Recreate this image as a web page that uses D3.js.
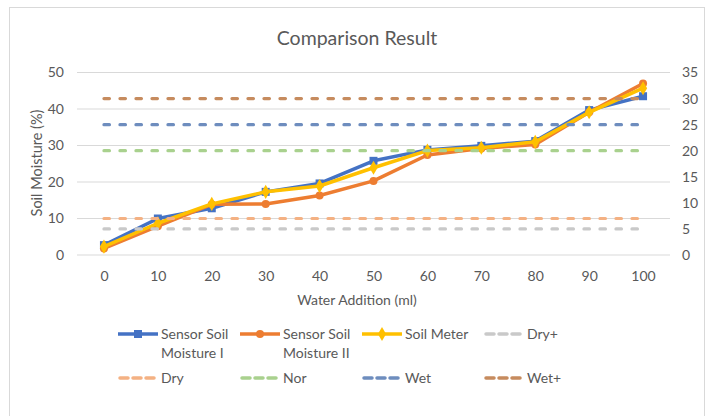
<!DOCTYPE html>
<html><head><meta charset="utf-8">
<script src="https://cdn.jsdelivr.net/npm/d3@7"></script>
<style>
html,body{margin:0;padding:0;background:#fff;}
svg text{font-family:Lato,"Open Sans",sans-serif;fill:#595959;}
</style></head>
<body><svg id="c" width="709" height="416"></svg>
<script>
const categories = [0,10,20,30,40,50,60,70,80,90,100];
const sensorI  = [2.7,10.0,12.8,17.3,19.6,25.8,28.8,29.9,31.2,39.7,43.5];
const sensorII = [1.8,7.9,13.9,14.0,16.3,20.3,27.4,29.2,30.3,39.1,47.0];
const soilMeter= [2.3,8.7,14.0,17.3,18.9,23.9,28.6,29.4,31.0,39.1,45.7];
// reference thresholds (secondary axis)
const thresholdNames = ["Dry+","Dry","Nor","Wet","Wet+"];
const thresholdValues = [5,7,20,25,30];
const leftTicks = [0,10,20,30,40,50];
const rightTicks = [0,5,10,15,20,25,30,35];

const svg = d3.select("#c");
svg.append("rect").attr("x",9.5).attr("y",7.5).attr("width",695).attr("height",420)
  .attr("fill","#fff").attr("stroke","#D9D9D9").attr("stroke-width",1);

const x = d3.scalePoint().domain(categories).range([77,670]).padding(0.5);
const yL = d3.scaleLinear().domain([0,50]).range([255,72.5]);
const yR = d3.scaleLinear().domain([0,35]).range([255,72.5]);

svg.append("g").selectAll("line").data(leftTicks).join("line")
  .attr("x1",77).attr("x2",670).attr("y1",d=>yL(d)).attr("y2",d=>yL(d))
  .attr("stroke","#D9D9D9").attr("stroke-width",1);

const fs = "14px";
const axL = svg.append("g").attr("transform","translate(77,0)")
  .call(d3.axisLeft(yL).tickValues(leftTicks).tickSize(0).tickPadding(13));
axL.select(".domain").remove();
axL.selectAll("text").style("font-size",fs).attr("fill","#595959");
const axR = svg.append("g").attr("transform","translate(670,0)")
  .call(d3.axisRight(yR).tickValues(rightTicks).tickSize(0).tickPadding(12));
axR.select(".domain").remove();
axR.selectAll("text").style("font-size",fs).attr("fill","#595959");
const axB = svg.append("g").attr("transform","translate(0,255)")
  .call(d3.axisBottom(x).tickSize(0).tickPadding(16));
axB.select(".domain").remove();
axB.selectAll("text").style("font-size",fs).attr("fill","#595959");

svg.append("text").attr("x",357).attr("y",45).attr("text-anchor","middle")
  .style("font-size","19.5px").text("Comparison Result");
svg.append("text").attr("x",357).attr("y",305).attr("text-anchor","middle")
  .style("font-size",fs).text("Water Addition (ml)");
svg.append("text").attr("transform","translate(42,163) rotate(-90)").attr("text-anchor","middle")
  .style("font-size","14.5px").text("Soil Moisture (%)");

const mainSeries = [
  {name:["Sensor Soil","Moisture I"], values:sensorI, color:"#4472C4", marker:"square"},
  {name:["Sensor Soil","Moisture II"], values:sensorII, color:"#ED7D31", marker:"circle"},
  {name:["Soil Meter"], values:soilMeter, color:"#FFC000", marker:"diamond"}
];
const thrColors = ["#C9C9C9","#F4B183","#A9D18E","#6E8DBE","#C68B5E"];

const line = d3.line().x((d,i)=>x(categories[i])).y(d=>yL(d));
function drawMarker(g, type, cx, cy, color, s){
  if(type==="square") g.append("rect").attr("x",cx-s/2).attr("y",cy-s/2).attr("width",s).attr("height",s).attr("fill",color);
  else if(type==="circle") g.append("circle").attr("cx",cx).attr("cy",cy).attr("r",s/2).attr("fill",color);
  else g.append("path").attr("d",d3.symbol(d3.symbolDiamond, s*s*0.9)()).attr("transform",`translate(${cx},${cy})`).attr("fill",color);
}
mainSeries.forEach(s=>{
  const g = svg.append("g");
  g.append("path").attr("d",line(s.values)).attr("fill","none").attr("stroke",s.color)
    .attr("stroke-width",3.5).attr("stroke-linejoin","round");
  s.values.forEach((v,i)=>drawMarker(g,s.marker,x(categories[i]),yL(v),s.color,8));
});
thresholdValues.forEach((v,i)=>{
  svg.append("line").attr("x1",x(categories[0])).attr("x2",x(categories[categories.length-1]))
    .attr("y1",yR(v)).attr("y2",yR(v)).attr("stroke",thrColors[i]).attr("stroke-width",3.2)
    .attr("stroke-linecap","round").attr("stroke-dasharray","5.5,10.5");
});

const legendItems = [
  ...mainSeries.map(s=>({name:s.name,color:s.color,marker:s.marker,dash:false})),
  ...thresholdNames.map((n,i)=>({name:[n],color:thrColors[i],dash:true}))
];
const colX = [118,240,362,484];
const rowY = [334,378];
legendItems.forEach((it,i)=>{
  const cx = colX[i%4], cy = rowY[Math.floor(i/4)];
  const g = svg.append("g");
  if(it.dash){
    g.append("line").attr("x1",cx+2).attr("x2",cx+38).attr("y1",cy).attr("y2",cy)
      .attr("stroke",it.color).attr("stroke-width",3.5).attr("stroke-linecap","round")
      .attr("stroke-dasharray","8,5");
  } else {
    g.append("line").attr("x1",cx).attr("x2",cx+40).attr("y1",cy).attr("y2",cy)
      .attr("stroke",it.color).attr("stroke-width",3.5);
    drawMarker(g,it.marker,cx+20,cy,it.color,8);
  }
  it.name.forEach((t,k)=>{
    g.append("text").attr("x",cx+43).attr("y",cy+k*19).attr("dy","0.35em")
      .style("font-size",fs).text(t);
  });
});
</script></body></html>
